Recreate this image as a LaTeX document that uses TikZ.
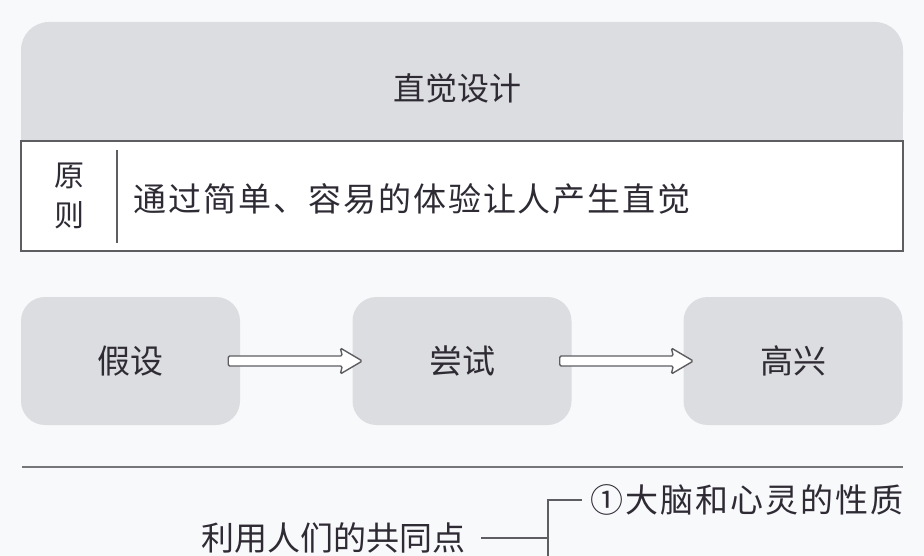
\documentclass[tikz,border=0pt]{standalone}
\usepackage{fontspec}
\usetikzlibrary{calc}
\newfontfamily\cjk{Noto Sans CJK SC}
\newfontfamily\cjkwide{Noto Sans CJK SC}[LetterSpace=6]
\definecolor{bgc}{HTML}{F8F9FB}
\definecolor{boxgray}{HTML}{DCDDE0}
\definecolor{linegray}{HTML}{5E5E62}
\definecolor{txt}{HTML}{2F2B34}
\tikzset{
  lbl/.style={font=\cjk\fontsize{33}{38}\selectfont, text=txt, inner sep=2},
  procbox/.style={fill=boxgray, rounded corners=24, minimum width=219, minimum height=128, inner sep=0},
  hollow/.style={draw=linegray, line width=1.4, fill=white, rounded corners=1.5},
  rule/.style={draw=linegray, line width=1.4},
}
\begin{document}
\begin{tikzpicture}[x=1pt,y=-1pt]
\useasboundingbox (0,0) rectangle (924,556);
\clip (0,0) rectangle (924,556);
\fill[bgc] (0,0) rectangle (924,556);
% title band
\node[fill=boxgray, rounded corners=28, minimum width=882, minimum height=118, inner sep=0] (title) at (462,81) {};
\fill[boxgray] (21,100) rectangle (903,141);
\node[lbl, font=\cjk\fontsize{32}{36}\selectfont] (titletext) at (457,88) {直觉设计};
% principle box
\node[rule, fill=white, minimum width=882, minimum height=110, inner sep=0] (principle) at (462,196) {};
\draw[linegray, line width=1.2] (117,150) -- (117,243);
\node[lbl, align=center, font=\cjk\fontsize{30}{40}\selectfont] (yuanze) at (69,196) {原\\则};
\node[lbl, anchor=west, font=\cjkwide\fontsize{33}{38}\selectfont] (principletext) at (131,199) {通过简单、容易的体验让人产生直觉};
% process boxes
\node[procbox] (b1) at (130.5,361) {};
\node[procbox] (b2) at (462,361) {};
\node[procbox] (b3) at (793,361) {};
\node[lbl] (t1) at (b1) {假设};
\node[lbl] (t2) at (b2) {尝试};
\node[lbl] (t3) at (b3) {高兴};
% hollow arrows
\foreach \s/\t in {b1/b2, b2/b3}{
  \draw[hollow] let \p1=([xshift=-12]\s.east), \p2=([xshift=10]\t.west) in
    (\x1,\y1+5) -- (\x2-20,\y1+5) -- (\x2-22,\y1+13) -- (\x2,\y1) -- (\x2-22,\y1-13) -- (\x2-20,\y1-5) -- (\x1,\y1-5) -- cycle;
}
% separator
\draw[linegray!85, line width=2] (22,467) -- (903,467);
% bottom
\node[lbl] (common) at (333,538) {利用人们的共同点};
\node[lbl, anchor=west, inner sep=0, font=\cjkwide\fontsize{33}{38}\selectfont] (item1) at (590,500) {①大脑和心灵的性质};
\coordinate (brtop) at (548,500);
\coordinate (brbot) at (548,570);
\draw[linegray, line width=1.4] ([xshift=14]common.east) -- (common.east -| brtop);
\draw[linegray, line width=1.4] (brbot) -- (brtop) -- ([xshift=-8]item1.west);
\end{tikzpicture}
\end{document}
